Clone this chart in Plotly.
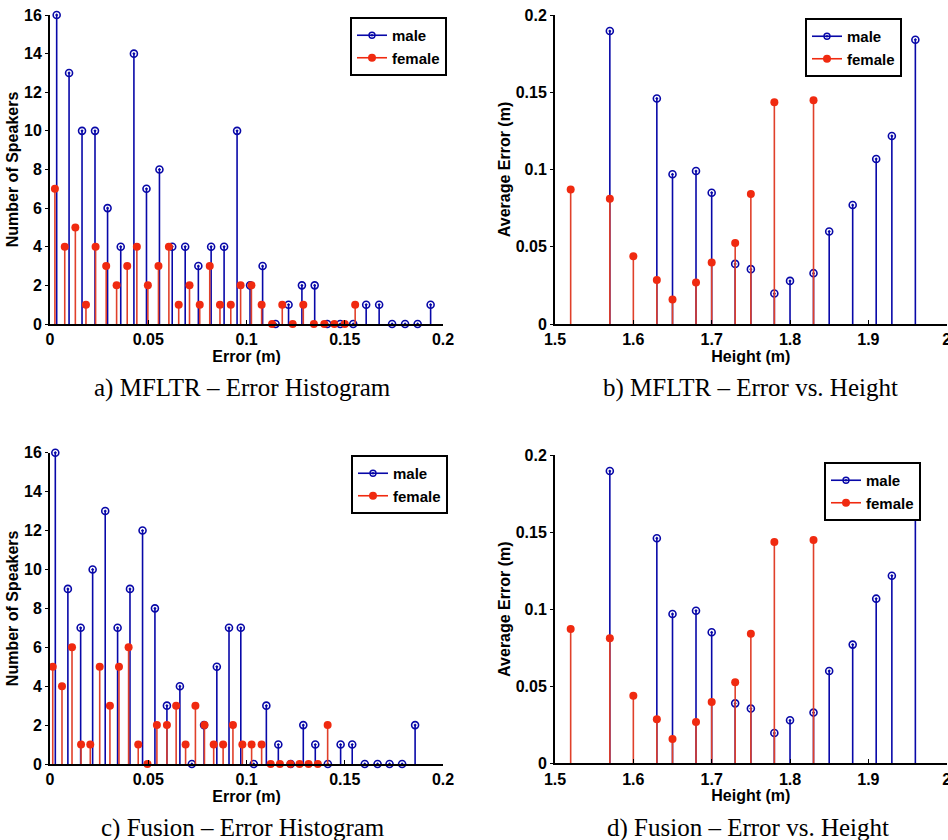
import plotly.graph_objects as go

# ---------------- data ----------------
# a) MFLTR - error histogram
a_male_x = [0.0034, 0.0097, 0.0163, 0.0229, 0.0293, 0.0360, 0.0427, 0.0491, 0.0557, 0.0622,
            0.0688, 0.0755, 0.0820, 0.0886, 0.0952, 0.1018, 0.1082, 0.1148, 0.1214, 0.1282,
            0.1347, 0.1411, 0.1477, 0.1543, 0.1609, 0.1675, 0.1741, 0.1807, 0.1871, 0.1937]
a_male_y = [16, 13, 10, 10, 6, 4, 14, 7, 8, 4, 4, 3, 4, 4, 10, 2, 3, 0, 1, 2, 2, 0, 0, 0, 1, 1, 0, 0, 0, 1]
a_female_x = [0.0025, 0.0075, 0.0129, 0.0183, 0.0232, 0.0286, 0.0339, 0.0393, 0.0442, 0.0498,
              0.0552, 0.0605, 0.0655, 0.0710, 0.0762, 0.0813, 0.0865, 0.0920, 0.0970, 0.1025,
              0.1077, 0.1130, 0.1182, 0.1235, 0.1289, 0.1343, 0.1396, 0.1447, 0.1500, 0.1553]
a_female_y = [7, 4, 5, 1, 4, 3, 2, 3, 4, 2, 3, 4, 1, 2, 1, 3, 1, 1, 2, 2, 1, 0, 1, 0, 1, 0, 0, 0, 0, 1]

# c) Fusion - error histogram
c_male_x = [0.0027, 0.0091, 0.0156, 0.0217, 0.0281, 0.0344, 0.0407, 0.0471, 0.0534, 0.0595,
            0.0661, 0.0722, 0.0784, 0.0849, 0.0911, 0.0971, 0.1037, 0.1101, 0.1162, 0.1225,
            0.1289, 0.1350, 0.1414, 0.1479, 0.1538, 0.1602, 0.1667, 0.1728, 0.1792, 0.1858]
c_male_y = [16, 9, 7, 10, 13, 7, 9, 12, 8, 3, 4, 0, 2, 5, 7, 7, 0, 3, 1, 0, 2, 1, 0, 1, 1, 0, 0, 0, 0, 2]
c_female_x = [0.0014, 0.0061, 0.0112, 0.0158, 0.0205, 0.0253, 0.0305, 0.0351, 0.0400, 0.0449,
              0.0496, 0.0544, 0.0595, 0.0642, 0.0690, 0.0740, 0.0786, 0.0833, 0.0881, 0.0931,
              0.0979, 0.1026, 0.1077, 0.1123, 0.1170, 0.1223, 0.1270, 0.1316, 0.1363, 0.1413]
c_female_y = [5, 4, 6, 1, 1, 5, 3, 5, 6, 1, 0, 2, 2, 3, 1, 3, 2, 1, 1, 2, 1, 1, 1, 0, 0, 0, 0, 0, 0, 2]

# b) / d) error vs. height
male_height = [1.57, 1.63, 1.65, 1.68, 1.70, 1.73, 1.75, 1.78, 1.80, 1.83, 1.85, 1.88, 1.91, 1.93, 1.96]
male_err = [0.1896, 0.1460, 0.0969, 0.0990, 0.0850, 0.0389, 0.0355, 0.0197, 0.0279, 0.0329,
            0.0599, 0.0770, 0.1068, 0.1217, 0.1840]
female_height = [1.52, 1.57, 1.60, 1.63, 1.65, 1.68, 1.70, 1.73, 1.75, 1.78, 1.83]
female_err = [0.0871, 0.0811, 0.0439, 0.0285, 0.0158, 0.0268, 0.0398, 0.0525, 0.0841, 0.1436, 0.1449]

hist_xticks = [0, 0.05, 0.1, 0.15, 0.2]
hist_xlabels = ["0", "0.05", "0.1", "0.15", "0.2"]
hist_yticks = [0, 2, 4, 6, 8, 10, 12, 14, 16]
hgt_xticks = [1.5, 1.6, 1.7, 1.8, 1.9, 2.0]
hgt_xlabels = ["1.5", "1.6", "1.7", "1.8", "1.9", "2"]
hgt_yticks = [0, 0.05, 0.1, 0.15, 0.2]
hgt_ylabels = ["0", "0.05", "0.1", "0.15", "0.2"]

captions = ["a) MFLTR \u2013 Error Histogram", "b) MFLTR \u2013 Error vs. Height",
            "c) Fusion \u2013 Error Histogram", "d) Fusion \u2013 Error vs. Height"]

# ---------------- style ----------------
W, H = 948, 840
BLUE = "#0808a8"
RED = "#f02a10"
RED_STEM = "#e0402a"
SANS = "Liberation Sans"
SERIF = "Liberation Serif"


def stems(xs, ys):
    sx, sy = [], []
    for x, y in zip(xs, ys):
        sx += [x, x, None]
        sy += [0, y, None]
    return sx, sy


fig = go.Figure()

panels = [
    ("x", "y", a_male_x, a_male_y, a_female_x, a_female_y, "legend"),
    ("x2", "y2", male_height, male_err, female_height, female_err, "legend2"),
    ("x3", "y3", c_male_x, c_male_y, c_female_x, c_female_y, "legend3"),
    ("x4", "y4", male_height, male_err, female_height, female_err, "legend4"),
]

for xa, ya, mx, my, fx, fy, lg in panels:
    smx, smy = stems(mx, my)
    sfx, sfy = stems(fx, fy)
    fig.add_trace(go.Scatter(x=smx, y=smy, mode="lines", line=dict(color=BLUE, width=1.6),
                             xaxis=xa, yaxis=ya, showlegend=False, hoverinfo="skip", cliponaxis=False))
    fig.add_trace(go.Scatter(x=mx, y=my, mode="markers", xaxis=xa, yaxis=ya, showlegend=False,
                             marker=dict(symbol="circle-open-dot", size=7, color=BLUE,
                                         line=dict(width=1.6, color=BLUE)), cliponaxis=False))
    fig.add_trace(go.Scatter(x=sfx, y=sfy, mode="lines", line=dict(color=RED_STEM, width=1.6),
                             xaxis=xa, yaxis=ya, showlegend=False, hoverinfo="skip", cliponaxis=False))
    fig.add_trace(go.Scatter(x=fx, y=fy, mode="markers", xaxis=xa, yaxis=ya, showlegend=False,
                             marker=dict(symbol="circle", size=8, color=RED), cliponaxis=False))
    fig.add_trace(go.Scatter(x=[None], y=[None], mode="lines+markers", name="male", legend=lg,
                             xaxis=xa, yaxis=ya,
                             line=dict(color=BLUE, width=1.6),
                             marker=dict(symbol="circle-open-dot", size=6, color=BLUE,
                                         line=dict(width=1.4, color=BLUE))))
    fig.add_trace(go.Scatter(x=[None], y=[None], mode="lines+markers", name="female", legend=lg,
                             xaxis=xa, yaxis=ya,
                             line=dict(color=RED, width=1.6),
                             marker=dict(symbol="circle", size=8, color=RED)))

tickfont = dict(family=SANS, size=16, color="black", weight="bold")
titlefont = dict(family=SANS, size=16, color="black", weight="bold")


def xaxis(domain, rng, tv, tt, title, anchor):
    return dict(domain=domain, range=rng, tickvals=tv, ticktext=tt, anchor=anchor,
                showline=True, linecolor="black", linewidth=2, ticks="inside", ticklen=4,
                tickwidth=1, tickcolor="black", showgrid=False, zeroline=False,
                tickfont=tickfont, ticklabeloverflow="allow",
                title=dict(text=title, font=titlefont, standoff=0),
                automargin=False, fixedrange=True)


def yaxis(domain, rng, tv, tt, title, anchor):
    return dict(domain=domain, range=rng, tickvals=tv, ticktext=tt, anchor=anchor,
                showline=True, linecolor="black", linewidth=2, ticks="outside", ticklen=3,
                tickwidth=1, tickcolor="black", showgrid=False, zeroline=False,
                tickfont=tickfont, ticklabeloverflow="allow",
                title=dict(text=title, font=titlefont, standoff=1),
                automargin=False, fixedrange=True)


xa_dom = [50 / W, 443 / W]
xb_dom = [555 / W, 946.7 / W]
ya_dom = [1 - 324 / H, 1 - 15 / H]
yc_dom = [1 - 764 / H, 1 - 452.7 / H]
yd_dom = [1 - 763.3 / H, 1 - 455 / H]

legend_style = dict(bgcolor="white", bordercolor="black", borderwidth=2,
                    font=dict(family=SANS, size=15, color="black", weight="bold"),
                    xanchor="left", yanchor="top", itemwidth=30, tracegroupgap=0)

fig.update_layout(
    width=W, height=H,
    margin=dict(l=0, r=0, t=0, b=0),
    paper_bgcolor="white", plot_bgcolor="white",
    xaxis=xaxis(xa_dom, [0, 0.2], hist_xticks, hist_xlabels, "Error (m)", "y"),
    yaxis=yaxis(ya_dom, [0, 16], hist_yticks, [str(v) for v in hist_yticks], "Number of Speakers", "x"),
    xaxis2=xaxis(xb_dom, [1.5, 2.0], hgt_xticks, hgt_xlabels, "Height (m)", "y2"),
    yaxis2=yaxis(ya_dom, [0, 0.2], hgt_yticks, hgt_ylabels, "Average Error (m)", "x2"),
    xaxis3=xaxis(xa_dom, [0, 0.2], hist_xticks, hist_xlabels, "Error (m)", "y3"),
    yaxis3=yaxis(yc_dom, [0, 16], hist_yticks, [str(v) for v in hist_yticks], "Number of Speakers", "x3"),
    xaxis4=xaxis(xb_dom, [1.5, 2.0], hgt_xticks, hgt_xlabels, "Height (m)", "y4"),
    yaxis4=yaxis(yd_dom, [0, 0.2], hgt_yticks, hgt_ylabels, "Average Error (m)", "x4"),
    legend=dict(x=350 / W, y=1 - 17 / H, **legend_style),
    legend2=dict(x=805 / W, y=1 - 18 / H, **legend_style),
    legend3=dict(x=351 / W, y=1 - 455 / H, **legend_style),
    legend4=dict(x=824 / W, y=1 - 462 / H, **legend_style),
    showlegend=True,
)

cap_pos = [(243, 388), (750, 388), (243, 828), (748, 828)]
for text, (cx, cy) in zip(captions, cap_pos):
    fig.add_annotation(text=text, x=cx / W, y=1 - cy / H, xref="paper", yref="paper",
                       showarrow=False, xanchor="center", yanchor="middle",
                       font=dict(family=SERIF, size=25, color="black"))

fig.write_html("out.html")
